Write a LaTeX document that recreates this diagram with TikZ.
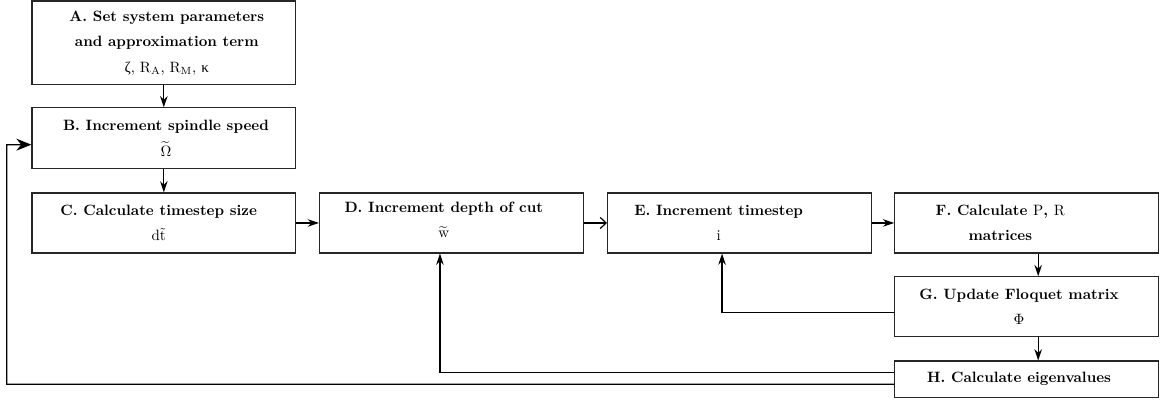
\documentclass[tikz,border=0pt]{standalone}
\usepackage{amsmath}
\usepackage{fontspec}
\usepackage{tikz}
\usetikzlibrary{arrows.meta,positioning,calc}
\newfontfamily\grk{Liberation Serif}
\newcommand{\upg}[1]{\mbox{\normalfont\grk #1}}

\begin{document}
\begin{tikzpicture}[
    box/.style={draw=black!85, line width=0.8pt, minimum width=6.20cm, minimum height=1.41cm},
    txt/.style={align=center, font=\bfseries\fontsize{10}{17}\selectfont},
    arr/.style={line width=0.8pt, -{Stealth[length=7.5pt,width=5pt]}}
]
    \useasboundingbox (0,0) rectangle (27.38,-9.40);

    % Boxes
    \node[box, minimum height=1.97cm] (a) at (3.85,-1.01) {};
    \node[txt] (atxt) at ($(a)+(0.07,0)$) {A. Set system parameters\\and approximation term\\
        \mdseries\upg{ζ}, $\mathrm{R_A}$, $\mathrm{R_M}$, \upg{κ}};

    \node[box, minimum height=1.43cm] (b) at (3.85,-3.25) {};
    \node[txt] (btxt) at ($(b)+(0.05,0)$) {B. Increment spindle speed\\$\widetilde{\Omega}$};

    \node[box] (c) at (3.85,-5.24) {};
    \node[txt] (ctxt) at ($(c)+(-0.12,0)$) {C. Calculate timestep size\\$\mathrm{d}\tilde{\mathrm{t}}$};

    \node[box] (d) at (10.61,-5.24) {};
    \node[txt] (dtxt) at ($(d)+(-0.18,0.08)$) {D. Increment depth of cut\\$\widetilde{\mathrm{w}}$};

    \node[box] (e) at (17.38,-5.24) {};
    \node[txt] (etxt) at ($(e)+(-0.49,0)$) {E. Increment timestep\\$\mathrm{i}$};

    \node[box] (f) at (24.13,-5.24) {};
    \node[txt] (ftxt) at ($(f)+(-0.62,0)$) {F. Calculate $\mathrm{P}$, $\mathrm{R}$\\matrices};

    \node[box] (g) at (24.13,-7.21) {};
    \node[txt] (gtxt) at ($(g)+(-0.18,0)$) {G. Update Floquet matrix\\$\Phi$};

    \node[box, minimum height=0.85cm] (h) at (24.13,-8.91) {};
    \node[txt] (htxt) at ($(h)+(-0.18,0)$) {H. Calculate eigenvalues};

    % Main chain
    \draw[arr] (a.south) -- (b.north);
    \draw[arr] (b.south) -- (c.north);
    \draw[arr] (c) -- (d);
    \draw[line width=0.8pt, -{Straight Barb[length=4pt,width=7.5pt]}] (d) -- (e);
    \draw[arr] (e) -- (f);
    \draw[arr] ([xshift=0.27cm]f.south) -- ([xshift=0.27cm]g.north);
    \draw[arr] ([xshift=0.27cm]g.south) -- ([xshift=0.27cm]h.north);

    % Feedback loops
    \coordinate (back) at (0.16,-3.40);
    \draw[arr] ([yshift=-0.14cm]g.west) -| ([xshift=-0.41cm]e.south);
    \draw[arr] ([yshift=0.16cm]h.west) -| ([xshift=-0.27cm]d.south);
    \draw[arr, -{Stealth[length=10pt,width=8pt]}] ([yshift=-0.12cm]h.west) -| (back) -- ([yshift=-0.15cm]b.west);
\end{tikzpicture}
\end{document}
